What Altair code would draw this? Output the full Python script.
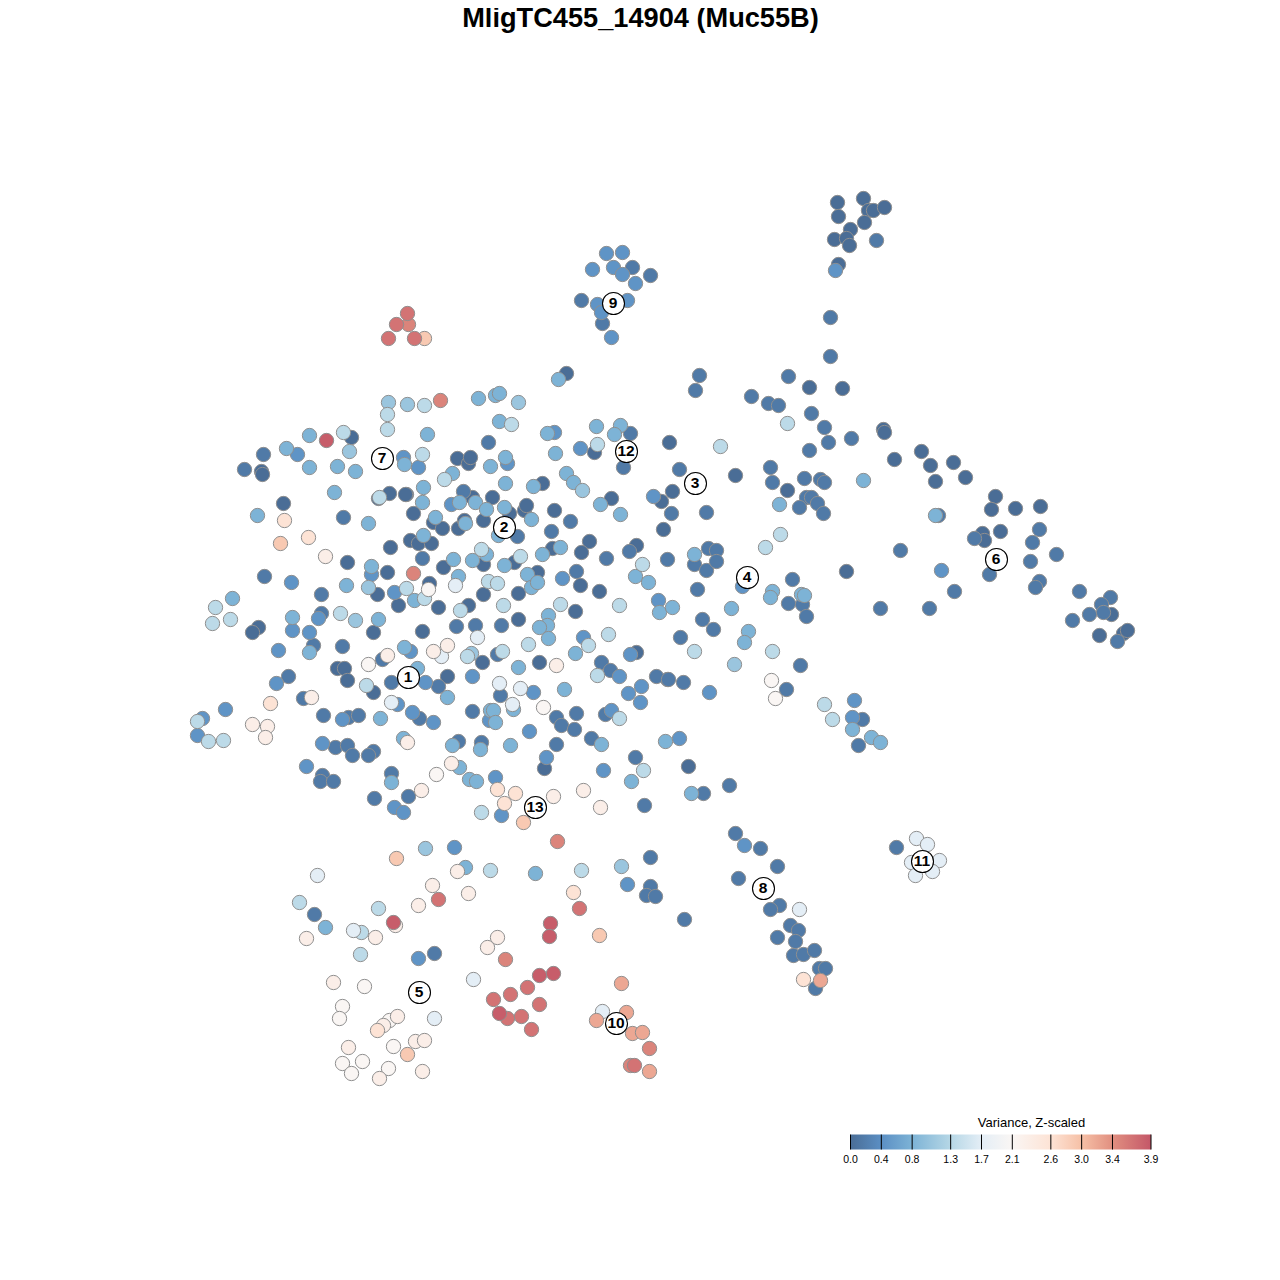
import altair as alt
import pandas as pd

TITLE = "MligTC455_14904 (Muc55B)"
LEGEND_TITLE = "Variance, Z-scaled"
legend_ticks = [0.0, 0.4, 0.8, 1.3, 1.7, 2.1, 2.6, 3.0, 3.4, 3.9]
legend_colors = ["#4a6d96", "#5b8fc4", "#7db3d6", "#b6d7e6", "#e4eef6", "#faf6f4", "#fde3d5", "#f6c0a6", "#e18f80", "#c45768"]

cluster_ids = ["1", "2", "3", "4", "5", "6", "7", "8", "9", "10", "11", "12", "13"]
cluster_x = [408, 504, 695, 747, 419, 996, 382, 763, 613, 616, 922, 626, 535]
cluster_y = [677, 527, 483, 577, 992, 559, 458, 888, 303, 1023, 861, 451, 807]

lvl_005 = [(863,198),(837,202),(868,210),(873,210),(884,207),(838,216),(864,222),(850,229),(834,239),(846,238),(849,245),(838,264),
 (566,373),(809,387),(842,388),(883,429),(884,432),(894,459),(921,451),(930,465),(953,462),(965,477),(935,481),(995,496),(1015,508),(1040,506),(991,509),
 (982,533),(984,540),(1000,531),(846,571),(1111,614),(1099,635),(1123,633),(1127,630),(787,490),(735,475),(669,442),(672,491),(661,501),(663,529),
 (594,452),(457,458),(468,463),(470,457),(406,494),(413,513),(472,497),(492,497),(542,483),(611,498),(433,522),(442,528),(458,528),(464,520),(483,520),
 (509,513),(524,510),(526,505),(554,510),(410,540),(418,543),(431,543),(443,567),(483,564),(514,562),(552,548),(589,541),(581,552),(636,545),(429,583),
 (438,607),(483,594),(518,593),(537,572),(580,585),(599,591),(468,605),(575,611),(518,619),(422,631),(351,437),(261,471),(262,474),(378,498),(389,493),
 (405,494),(283,503),(390,547),(347,562),(387,572),(377,594),(398,605),(373,632),(258,627),(252,632),(337,668),(344,668),(347,680),(482,662),(373,692),
 (447,676),(539,662),(636,652),(688,766),(544,768)]

lvl_02 = [(876,240),(830,317),(830,356),(699,375),(695,390),(788,376),(751,396),(768,403),(778,405),(811,413),(824,427),(828,442),(851,438),(809,450),
 (1039,529),(974,538),(1032,542),(1056,554),(1030,561),(989,574),(1039,581),(1035,587),(1079,591),(1110,597),(1101,604),(1103,612),(1089,614),(1072,620),(1117,641),
 (900,550),(954,591),(880,608),(929,608),(938,515),(770,467),(772,482),(804,478),(820,479),(824,482),(806,497),(811,497),(817,503),(799,507),(823,513),
 (679,469),(671,513),(706,512),(708,548),(716,550),(694,564),(706,570),(716,561),(667,559),(697,589),(792,579),(788,603),(802,604),(806,616),(702,619),(713,629),(680,637),(800,665),
 (786,689),(683,682),(667,679),(656,676),(488,442),(630,433),(623,467),(463,491),(570,521),(551,531),(517,536),(422,558),(606,558),(629,551),(576,571),
 (456,626),(475,625),(501,625),(343,517),(264,576),(321,594),(321,613),(263,454),(244,469),(288,676),(313,645),(342,646),(382,659),(391,682),(438,686),(303,698),
 (323,715),(348,717),(358,715),(419,718),(472,711),(335,747),(347,745),(352,755),(373,751),(368,755),(322,775),(320,781),(333,781),(391,773),(458,741),(481,742),(374,798),(408,796),
 (497,654),(500,695),(601,662),(610,670),(668,679),(556,717),(561,725),(576,713),(574,729),(605,714),(591,738),(556,744),(635,757),(729,785),(703,793),(644,805),(650,857),(735,833),
 (760,848),(777,866),(738,878),(650,886),(646,895),(655,896),(684,919),(779,905),(770,909),(790,925),(798,930),(777,937),(795,941),(793,955),(803,954),(814,950),(819,968),(825,968),(815,988),
 (896,847),(862,719),(858,745),(632,267),(650,275),(581,300),(602,323),(434,953),(314,914)]

lvl_045 = [(835,270),(941,570),(554,432),(580,448),(507,463),(451,504),(653,496),(403,457),(418,467),(297,454),(371,574),(291,582),(394,592),(318,618),(292,630),(309,632),(278,650),(410,651),
 (425,682),(472,676),(397,704),(276,683),(342,719),(412,712),(433,722),(225,709),(202,718),(197,735),(322,743),(306,766),(394,807),(403,812),(454,847),(533,692),(619,676),(641,686),(628,693),(640,702),
 (630,654),(611,710),(489,720),(529,731),(546,757),(495,777),(501,815),(603,770),(679,738),(709,692),(744,845),(627,884),(562,578),(658,600),(583,637),(606,253),(622,252),(592,269),(613,267),(622,274),(635,283),
 (597,304),(627,300),(601,312),(611,337),(418,958),(854,700),(852,717),(742,586)]

lvl_08 = [(863,480),(935,515),(779,504),(694,554),(772,591),(770,597),(801,594),(804,595),(731,608),(748,631),(744,642),(427,434),(478,398),(495,395),(499,393),(499,421),(547,433),(596,426),(620,425),(614,434),(555,453),
 (490,466),(505,457),(452,473),(423,487),(422,502),(459,502),(475,502),(505,483),(533,486),(566,473),(573,482),(600,504),(620,514),(435,517),(465,523),(486,509),(504,507),(531,519),(498,535),
 (423,535),(453,559),(472,560),(486,554),(504,565),(542,554),(560,547),(458,576),(527,574),(531,587),(537,582),(635,576),(648,582),(414,600),(659,612),(672,607),(548,615),(547,625),(539,627),(548,638),
 (309,435),(286,448),(309,467),(337,466),(355,471),(404,464),(334,492),(257,515),(368,523),(371,566),(346,585),(232,598),(292,617),(378,619),(404,647),(309,652),(417,668),(447,697),(380,718),(490,710),
 (403,738),(452,745),(480,749),(459,767),(469,779),(476,781),(391,782),(465,867),(575,653),(518,667),(564,689),(493,710),(513,709),(495,722),(510,745),(601,744),(665,741),(631,781),(691,793),(535,873),(325,927),(852,729),(871,737),(880,742),(558,379)]

lvl_11 = [(407,404),(388,402),(518,402),(582,490),(349,451),(368,587),(355,620),(471,653),(734,664),(621,866),(425,848)]

lvl_135 = [(720,446),(787,423),(780,534),(765,547),(772,651),(694,651),(424,405),(511,424),(387,414),(387,429),(444,479),(597,444),(422,454),(343,432),(379,497),(481,549),(520,556),(642,564),
 (406,588),(424,598),(488,581),(497,583),(460,610),(503,605),(560,604),(619,605),(215,607),(212,623),(230,619),(340,613),(608,634),(588,645),(528,644),(467,656),(502,651),(366,685),(197,721),(208,741),(223,740),
 (597,675),(619,718),(643,770),(481,812),(490,870),(581,870),(824,704),(832,719),(378,908),(360,954),(299,902),(361,932)]

lvl_17 = [(455,585),(477,637),(441,656),(391,702),(499,683),(512,704),(520,688),(317,875),(799,909),(916,838),(927,844),(911,862),(939,860),(932,871),(915,875),(353,930),(473,979),(602,1011),(434,1018)]

lvl_21 = [(428,589),(368,664),(436,774),(543,707),(771,680),(775,698),(342,1006),(389,1020),(393,1046),(362,1061),(388,1068),(364,986),(339,1018),(342,1063),(351,1073)]

lvl_23 = [(325,556),(387,655),(447,645),(433,651),(311,697),(252,724),(267,726),(265,737),(407,742),(451,763),(421,790),(457,871),(556,665),(583,790),(553,796),(600,807),(306,938),(375,937),(395,925),(432,885),(468,893),(418,905),
 (487,947),(497,937),(333,982),(397,1016),(383,1025),(415,1041),(424,1040),(348,1047),(379,1078),(422,1071)]

lvl_26 = [(284,520),(308,537),(270,703),(497,789),(515,793),(504,803),(573,892),(803,979),(377,1030)]

lvl_29 = [(280,543),(396,858),(523,822),(599,935),(424,338),(407,1054)]

lvl_32 = [(820,980),(621,983),(596,1020),(626,1012),(632,1033),(642,1032),(649,1071)]

lvl_35 = [(413,573),(440,400),(557,841),(505,959),(649,1048),(630,1065),(408,324)]

lvl_365 = [(407,313),(396,324),(414,338),(388,338),(438,899),(579,908),(634,1065),(527,987),(510,994),(493,999),(539,1004),(507,1018),(521,1016),(531,1029)]

lvl_385 = [(326,440),(393,922),(550,923),(549,936),(539,975),(553,973),(499,1013)]

groups = [(0.0, lvl_005), (0.15, lvl_02), (0.45, lvl_045), (0.8, lvl_08), (1.05, lvl_11), (1.35, lvl_135), (1.7, lvl_17),
          (2.1, lvl_21), (2.3, lvl_23), (2.6, lvl_26), (2.9, lvl_29), (3.2, lvl_32), (3.5, lvl_35), (3.65, lvl_365), (3.85, lvl_385)]

rows = [{"x": p[0], "y": p[1], "v": v} for v, pts in groups for p in pts]
df = pd.DataFrame(rows)
labels = pd.DataFrame({"x": cluster_x, "y": cluster_y, "t": cluster_ids})
ticks = pd.DataFrame({"v": legend_ticks})

xs = alt.Scale(domain=[7.5, 1271.5], nice=False, zero=False)
ys = alt.Scale(domain=[1271.5, 7.5], nice=False, zero=False)
X = alt.X("x:Q", scale=xs, axis=None)
Y = alt.Y("y:Q", scale=ys, axis=None)

points = alt.Chart(df).mark_circle(size=205, opacity=1, stroke="#8f8f8f", strokeWidth=1).encode(
    x=X, y=Y,
    color=alt.Color("v:Q",
        scale=alt.Scale(domain=legend_ticks, range=legend_colors, interpolate="rgb"),
        legend=None),
)

circles = alt.Chart(labels).mark_circle(size=484, opacity=1, fill="white", stroke="black", strokeWidth=1.1).encode(x=X, y=Y)
texts = alt.Chart(labels).mark_text(font="Liberation Sans", fontWeight="bold", fontSize=15.5, color="black", baseline="middle", dx=-0.5, dy=-0.5).encode(
    x=X, y=Y, text="t:N")

title_df = pd.DataFrame({"x": [640], "y": [26.5], "t": [TITLE]})
title = alt.Chart(title_df).mark_text(font="Liberation Sans", fontWeight="bold", fontSize=27.2, color="black", baseline="alphabetic").encode(
    x=X, y=Y, text="t:N")

# colour bar: gradient built from the legend stops
bar_df = pd.DataFrame({"x": [850], "x2": [1150.5], "y": [1134], "y2": [1149]})
stops = [alt.GradientStop(offset=t / legend_ticks[-1], color=c) for t, c in zip(legend_ticks, legend_colors)]
bar = alt.Chart(bar_df).mark_rect(
    color=alt.LinearGradient(gradient="linear", stops=stops, x1=0, x2=1, y1=0, y2=0)
).encode(x=X, x2="x2:Q", y=Y, y2="y2:Q")

legend_base = alt.Chart(ticks).transform_calculate(
    px="850 + datum.v / 3.9 * 300.5", y0="1134", y1="1149", ly="1162",
    lab="format(datum.v, '.1f')")
tick_marks = legend_base.mark_rule(color="black", strokeWidth=1).encode(
    x=alt.X("px:Q", scale=xs, axis=None),
    y=alt.Y("y0:Q", scale=ys, axis=None),
    y2="y1:Q")
tick_labels = legend_base.mark_text(font="Liberation Sans", fontSize=10.5, color="black", baseline="alphabetic").encode(
    x=alt.X("px:Q", scale=xs, axis=None),
    y=alt.Y("ly:Q", scale=ys, axis=None),
    text="lab:N")

ltitle_df = pd.DataFrame({"x": [1031], "y": [1126], "t": [LEGEND_TITLE]})
legend_title = alt.Chart(ltitle_df).mark_text(font="Liberation Sans", fontSize=13, color="black", baseline="alphabetic").encode(
    x=X, y=Y, text="t:N")

chart = alt.layer(points, bar, tick_marks, tick_labels, legend_title, circles, texts, title).properties(
    width=1264, height=1264, padding=0, autosize=alt.AutoSizeParams(type="none"),
).configure_view(stroke=None)

chart.save("out.html", embed_options={"renderer": "svg", "actions": False})
